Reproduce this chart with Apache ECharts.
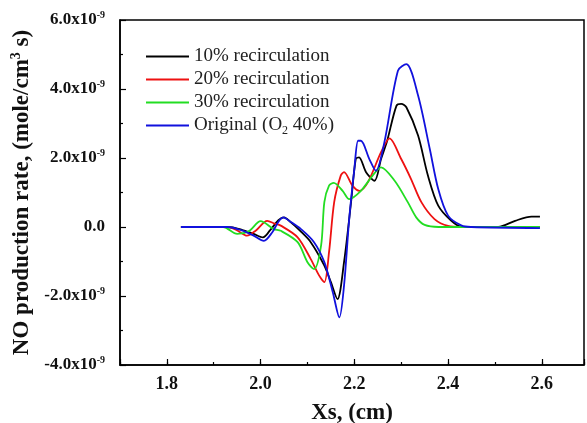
<!DOCTYPE html>
<html>
<head>
<meta charset="utf-8">
<script src="https://cdn.jsdelivr.net/npm/echarts@6/dist/echarts.min.js"></script>
<style>html,body{margin:0;padding:0;background:#fff}#c{width:587px;height:423px}</style>
</head>
<body>
<div id="c"></div>
<script>
// values in units of 1e-9 mole/(cm^3 s)
var xTickLabels = [1.8, 2.0, 2.2, 2.4, 2.6];
var yTickLabels = [-4, -2, 0, 2, 4, 6];
var seriesNames = ['10% recirculation', '20% recirculation', '30% recirculation', 'Original (O2 40%)'];

var rec10 = [[1.83,0],[1.93,0],[1.96,-0.08],[1.985,-0.2],[2.005,-0.3],[2.02,-0.1],[2.038,0.2],[2.05,0.28],[2.064,0.14],[2.085,-0.12],[2.107,-0.44],[2.136,-1.12],[2.15,-1.6],[2.164,-2.09],[2.178,-1.02],[2.193,0.72],[2.203,1.97],[2.21,2.02],[2.225,1.59],[2.243,1.34],[2.257,1.97],[2.27,2.5],[2.29,3.52],[2.3,3.57],[2.311,3.47],[2.336,2.65],[2.357,1.49],[2.379,0.62],[2.407,0.18],[2.43,0],[2.507,0],[2.543,0.18],[2.578,0.30],[2.596,0.30]];
var rec20 = [[1.83,0],[1.93,0],[1.95,-0.1],[1.971,-0.25],[1.99,-0.1],[2.014,0.18],[2.03,0.1],[2.043,0.04],[2.079,-0.30],[2.107,-0.93],[2.125,-1.41],[2.136,-1.6],[2.146,-0.73],[2.157,0.72],[2.171,1.49],[2.178,1.59],[2.196,1.2],[2.211,1.05],[2.229,1.30],[2.257,2.17],[2.275,2.57],[2.30,1.97],[2.321,1.39],[2.343,0.72],[2.371,0.23],[2.40,0.03],[2.43,0],[2.596,0]];
var rec30 = [[1.83,0],[1.92,0],[1.95,-0.2],[1.975,-0.12],[2.0,0.17],[2.028,-0.06],[2.043,-0.11],[2.079,-0.44],[2.1,-1.02],[2.114,-1.22],[2.129,-0.54],[2.136,0.72],[2.146,1.2],[2.156,1.28],[2.175,1.05],[2.189,0.81],[2.214,1.05],[2.239,1.49],[2.257,1.73],[2.286,1.34],[2.314,0.72],[2.332,0.28],[2.35,0.06],[2.38,0],[2.596,0]];
var original = [[1.83,0],[1.93,0],[1.96,-0.1],[1.985,-0.25],[2.007,-0.40],[2.025,-0.15],[2.038,0.15],[2.048,0.28],[2.064,0.15],[2.086,-0.06],[2.114,-0.44],[2.136,-1.02],[2.154,-1.89],[2.168,-2.62],[2.178,-1.7],[2.189,0.23],[2.2,1.68],[2.208,2.5],[2.214,2.5],[2.232,1.97],[2.246,1.63],[2.264,2.45],[2.293,4.53],[2.311,4.72],[2.336,3.81],[2.361,2.26],[2.379,1.10],[2.40,0.33],[2.429,0.04],[2.45,0],[2.596,-0.03]];

var colors = ['#000000', '#ee1111', '#22dd22', '#1111dd'];
var font = 'Liberation Serif';

var chart = echarts.init(document.getElementById('c'), null, {renderer: 'canvas'});
function mk(name, data, color) {
  return {name: name, type: 'line', data: data, smooth: 0.3, showSymbol: false, symbol: 'none',
          lineStyle: {color: color, width: 1.8}, itemStyle: {color: color}, xAxisIndex: 0, yAxisIndex: 0};
}
chart.setOption({
  animation: false,
  backgroundColor: '#fff',
  grid: {left: 120, right: 3, top: 20, bottom: 58, show: true, borderColor: '#000', borderWidth: 1.5,
         containLabel: false, outerBoundsMode: 'none'},
  legend: {
    left: 141, top: 42, orient: 'vertical', icon: 'rect', itemWidth: 43, itemHeight: 2, itemGap: 4,
    data: seriesNames,
    formatter: function (n) {
      if (n === 'Original (O2 40%)') return '{a|Original (O}{sub|2}{a| 40%)}';
      return '{a|' + n + '}';
    },
    textStyle: {fontFamily: font, fontSize: 19, color: '#222',
      rich: {a: {fontFamily: font, fontSize: 19, color: '#222'},
             sub: {fontFamily: font, fontSize: 12, color: '#222', verticalAlign: 'bottom', padding: [10, 0, 0, 0]}}}
  },
  xAxis: [{
    type: 'value', min: 1.7, max: 2.69, splitNumber: 5,
    name: 'Xs, (cm)', nameLocation: 'middle', nameGap: 37,
    nameTextStyle: {fontFamily: font, fontSize: 23, fontWeight: 'bold', color: '#111'},
    axisLine: {show: true, onZero: false, lineStyle: {color: '#000', width: 1.5}},
    axisTick: {show: true, inside: true, length: 6, lineStyle: {color: '#000', width: 1.2}},
    axisLabel: {fontFamily: font, fontSize: 18, fontWeight: 'bold', color: '#111', margin: 10,
      formatter: function (v) {
        for (var i = 0; i < xTickLabels.length; i++) if (Math.abs(v - xTickLabels[i]) < 1e-6) return xTickLabels[i].toFixed(1);
        return '';
      }},
    splitLine: {show: false}
  }, {
    type: 'value', min: 1.7, max: 2.69, interval: 0.1, position: 'bottom', gridIndex: 0,
    axisLine: {show: false, onZero: false}, axisLabel: {show: false}, splitLine: {show: false},
    axisTick: {show: true, inside: true, length: 3, lineStyle: {color: '#000', width: 1.2}}
  }],
  yAxis: {
    type: 'value', min: -4, max: 6, interval: 2,
    name: 'NO production rate, (mole/cm{sup|3} s)', nameLocation: 'middle', nameGap: 67, nameRotate: 90,
    nameTextStyle: {fontFamily: font, fontSize: 23, fontWeight: 'bold', color: '#111',
      rich: {sup: {fontFamily: font, fontSize: 14, fontWeight: 'bold', color: '#111', verticalAlign: 'top', padding: [0, 0, 10, 0]}}},
    axisLine: {show: true, onZero: false, lineStyle: {color: '#000', width: 1.5}},
    axisTick: {show: true, inside: true, length: 6, lineStyle: {color: '#000', width: 1.2}},
    minorTick: {show: true, splitNumber: 2, length: 3, lineStyle: {color: '#000', width: 1.2}},
    minorSplitLine: {show: false},
    splitLine: {show: false},
    axisLabel: {fontFamily: font, fontSize: 17, fontWeight: 'bold', color: '#111', margin: 15,
      formatter: function (v) {
        if (Math.abs(v) < 1e-9) return '{b|0.0}';
        return '{b|' + v.toFixed(1) + 'x10}{s|-9}';
      },
      rich: {b: {fontFamily: font, fontSize: 17, fontWeight: 'bold', color: '#111'},
             s: {fontFamily: font, fontSize: 10, fontWeight: 'bold', color: '#111', verticalAlign: 'top', padding: [0, 0, 10, 0]}}}
  },
  series: [mk(seriesNames[0], rec10, colors[0]), mk(seriesNames[1], rec20, colors[1]),
           mk(seriesNames[2], rec30, colors[2]), mk(seriesNames[3], original, colors[3])]
});
</script>
</body>
</html>
